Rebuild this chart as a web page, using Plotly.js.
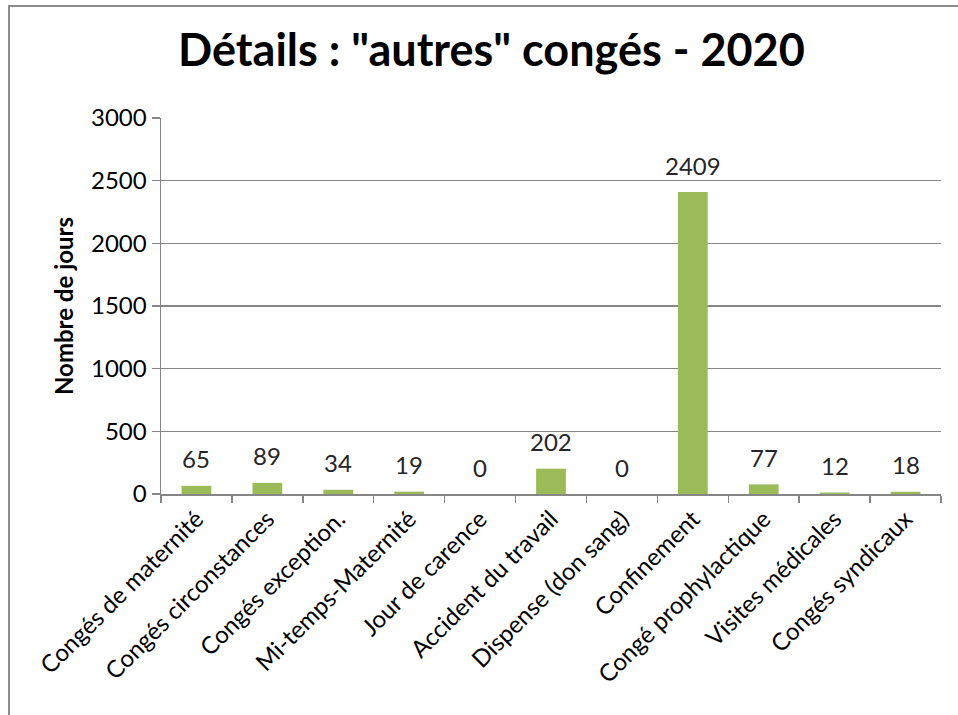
<!DOCTYPE html>
<html>
<head>
<meta charset="utf-8">
<script src="https://cdn.plot.ly/plotly-3.0.1.min.js"></script>
<style>
  html, body { margin: 0; padding: 0; background: #fff; }
  #wrap { position: relative; width: 958px; height: 715px; overflow: hidden; }
  #chart { position: absolute; left: 0; top: 0; width: 958px; height: 715px; }
  #frame { position: absolute; left: 8px; top: 5px; width: 960px; height: 720px;
           border-top: 2px solid #8c8c8c; border-left: 2px solid #8c8c8c; pointer-events: none; }
</style>
</head>
<body>
<div id="wrap">
  <div id="chart"></div>
  <div id="frame"></div>
</div>
<script>
const categories = [
  "Congés de maternité",
  "Congés circonstances",
  "Congés exception.",
  "Mi-temps-Maternité",
  "Jour de carence",
  "Accident du travail",
  "Dispense (don sang)",
  "Confinement",
  "Congé prophylactique",
  "Visites médicales",
  "Congés syndicaux"
];
const jours = [65, 89, 34, 19, 0, 202, 0, 2409, 77, 12, 18];
const yTicks = [0, 500, 1000, 1500, 2000, 2500, 3000];

const FONT = "Lato, 'Open Sans', sans-serif";

const trace = {
  type: "bar",
  x: categories,
  y: jours,
  marker: { color: "#9bbb59" },
  hoverinfo: "x+y"
};

const labels = categories.map((c, i) => ({
  x: c, y: jours[i], xref: "x", yref: "y",
  text: String(jours[i]), showarrow: false,
  yanchor: "middle", yshift: 27,
  font: { family: FONT, size: 24, color: "#262626" }
}));

const layout = {
  width: 958, height: 715,
  margin: { l: 161, r: 17, t: 118, b: 221 },
  paper_bgcolor: "#ffffff", plot_bgcolor: "#ffffff",
  showlegend: false,
  bargap: 0.58,
  title: {
    text: "<b>Détails : \"autres\" congés - 2020</b>",
    x: 0.513, xanchor: "center", xref: "container",
    y: 0.93, yanchor: "middle", yref: "container",
    font: { family: FONT, size: 45, color: "#000000" }
  },
  xaxis: {
    type: "category",
    tickangle: -45,
    tickson: "boundaries",
    ticks: "outside", ticklen: 7, tickcolor: "#868686", tickwidth: 1.5,
    showline: true, linecolor: "#868686", linewidth: 1.5,
    showgrid: false,
    tickfont: { family: FONT, size: 24, color: "#000000" },
    automargin: false
  },
  yaxis: {
    range: [0, 3000],
    tickvals: yTicks,
    ticktext: yTicks.map(String),
    ticks: "outside", ticklen: 8, tickcolor: "#868686", tickwidth: 1.5,
    showline: true, linecolor: "#868686", linewidth: 1.5,
    showgrid: true, gridcolor: "#868686", gridwidth: 1.5,
    zeroline: false,
    tickfont: { family: FONT, size: 24, color: "#000000" },
    title: { text: "<b>Nombre de jours</b>", standoff: 10,
             font: { family: FONT, size: 24, color: "#000000" } },
    automargin: false
  },
  annotations: labels
};

Plotly.newPlot("chart", [trace], layout, { displayModeBar: false, staticPlot: true });
</script>
</body>
</html>
